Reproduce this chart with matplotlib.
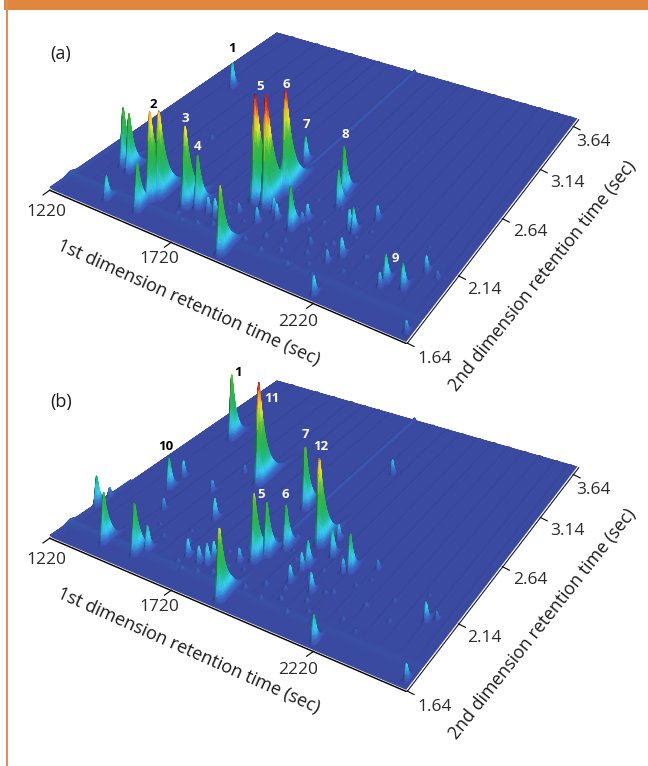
import numpy as np
import matplotlib
matplotlib.use("Agg")
import matplotlib.pyplot as plt
from matplotlib.colors import LinearSegmentedColormap
from matplotlib.patches import Rectangle

plt.rcParams['font.family'] = ['Open Sans', 'DejaVu Sans']

# ---- data: retention times (s) and peak heights ----
A_T1 = [1335,1336,1376,1538,1416,1536,1552,1463,1652,1688,1882,1728,1759,1638,1486,1886,1901,1929,1992,2009,2002,1809,
        2164,2205,2079,2042,2056,2161,2143,2191,2187,2350,2404,2426,2490,2344,2464,1822,1863,1875,1838]
A_T2 = [2.97,1.99,1.964,1.73,1.72,1.83,1.87,1.98,1.88,1.907,1.68,1.91,1.90,1.88,2.45,1.97,2.08,2.04,2.01,2.12,2.09,1.99,
        1.90,1.68,1.97,2.38,2.29,2.15,2.16,2.30,1.97,1.92,1.92,2.08,1.69,1.88,2.07,2.10,2.10,2.25,2.53]
A_H  = [26,60,60,50,25,88,88,50,83,55,70,16,19,10,5,16,16,17,45,17,10,10,
        13,20,8,52,37,26,22,15,20,29,27,17,13,15,8,110,114,100,27]

B_T1 = [1350,1613,1832,1981,1853,1871,1901,1368,1361,1230,1226,1393,1516,1537,1432,1502,1612,1526,1874,1663,1711,1738,1741,
        1815,2003,2000,2007,2082,2205,2045,2015,2131,2113,2196,2428,2450,2490,1976]
B_T2 = [2.93,2.61,2.54,2.30,2.02,2.09,2.19,2.31,2.45,1.97,2.08,1.74,1.75,1.81,2.14,2.42,2.21,2.67,1.69,1.88,1.87,1.88,1.93,
        1.98,1.98,2.09,2.13,1.97,1.68,2.26,2.40,2.20,2.18,2.29,2.07,2.11,1.69,3.09]
B_H  = [66,103,65,90,70,55,46,32,17,31,9,52,53,26,12,12,22,8,75,19,18,22,18,
        15,18,18,27,21,29,28,17,40,15,10,20,9,18,16]

# small bumps scattered across the crowded middle of both panels
BUMP_T1 = [1480,1530,1590,1620,1655,1690,1740,1780,1800,1835,1850,1905,1925,1950,1975,1985,2025,2040,2060,2075,2095,
           2110,2125,2140,2160,2180,2205,2225,2250,2280,2310,2340,2385,1760,1800,1850,1900,1960,2010,2070,2120]
BUMP_T2 = [2.02,1.95,2.06,1.98,1.82,1.78,1.80,1.84,2.10,1.85,2.22,1.83,2.20,1.90,1.80,2.28,1.85,2.05,2.14,1.78,1.90,
           2.32,1.84,2.02,1.78,2.12,2.20,1.88,2.02,1.84,2.12,1.98,2.24,2.02,1.92,1.94,2.30,2.14,1.92,2.28,2.00]
BUMP_H  = [3,4,3,5,4,3,4,5,3,5,4,5,3,6,4,3,5,4,3,4,5,
           3,4,5,3,4,3,4,4,3,3,4,3,3,4,3,3,4,5,3,4]

# faint column-bleed ridges
BAND_T2 = 1.785
MAIN_STREAK_T1 = 1860
STREAK_T1 = [1300,1420,1500,1580,1640,1700,1760,1940,2000,2060,2130,2190,2250,2310,2370,2430,2480]
STREAK_H  = [0.5,0.6,0.5,0.6,0.5,0.7,0.5,0.6,0.5,0.6,0.5,0.6,0.5,0.6,0.5,0.6,0.5]

TICKS_T1 = [1220, 1720, 2220]
TICKS_T2 = [1.64, 2.14, 2.64, 3.14, 3.64]
T1_LABELS = ['1220', '1720', '2220']
T2_LABELS = ['1.64', '2.14', '2.64', '3.14', '3.64']

LABELS_A = [('1',232,48,'k'),('2',153,104,'k'),('3',185,118,'w'),('4',198,146,'w'),('5',260,87,'w'),('6',286,84,'w'),
            ('7',306,125,'w'),('8',345,135,'w'),('9',395,258,'w')]
LABELS_B = [('1',238,372,'k'),('11',272,399,'w'),('7',305,434,'w'),('12',321,447,'w'),('5',261,494,'w'),('6',285,495,'w'),
            ('10',166,447,'k')]

T1_MIN, T1_SPAN = 1220.0, 1285.0
T2_MIN, T2_SPAN = 1.64, 2.08

# ---- floor-plane view: corners of panel (a) in figure pixels ----
G, H = -0.1873, 0.2934
MA, MB, MC = 279.96, 308.27, 50.0
MD, ME, MF = 88.94, -146.32, 189.0
PANEL_DY = {'a': 0, 'b': 348}

def project(t1, t2, z=0.0, dy=0):
    u = (np.asarray(t1, float) - T1_MIN) / T1_SPAN
    v = (np.asarray(t2, float) - T2_MIN) / T2_SPAN
    w = G*u + H*v + 1
    return (MA*u + MB*v + MC)/w, (MD*u + ME*v + MF)/w - z + dy

CMAP = LinearSegmentedColormap.from_list('gc', [
    (0.00, '#3A4AA0'), (0.05, '#3560B0'), (0.10, '#2F9AD0'), (0.145, '#38C4E4'),
    (0.22, '#1FA88C'), (0.36, '#22A04A'), (0.58, '#3FAA30'), (0.66, '#B8D028'),
    (0.72, '#F2E41E'), (0.82, '#F09A1E'), (0.92, '#CE1E20'), (1.00, '#C01A20')])
ZMAX = 105.0

def surface(t1s, t2s, hs):
    t1s = list(t1s) + BUMP_T1
    t2s = list(t2s) + BUMP_T2
    hs = list(hs) + BUMP_H
    u = np.linspace(0, 1, 800)
    v = np.linspace(1, 0, 520)          # far rows first, so near rows paint over them
    U, V = np.meshgrid(u, v)
    T1 = T1_MIN + U*T1_SPAN
    T2 = T2_MIN + V*T2_SPAN
    Z = np.zeros_like(U)
    for t1, t2, h in zip(t1s, t2s, hs):
        u0 = (t1 - T1_MIN)/T1_SPAN
        v0 = (t2 - T2_MIN)/T2_SPAN
        su = 0.0022 + 0.000028*h
        sl = 0.0032 + 0.00002*h
        tr = 0.0035 + 0.00030*h
        du = (U - u0)/su
        dv = V - v0
        prof = np.where(dv < 0, np.exp(-0.5*(dv/sl)**2), np.exp(-(np.maximum(dv, 0)/tr)**1.05))
        Z += h*np.exp(-0.5*du**2)*prof
    Z += (2.4 - 1.2*U)*np.exp(-0.5*((T2 - BAND_T2)/0.022)**2)
    Z += 1.6*np.exp(-0.5*(U/0.008)**2)*(V < 0.3)
    Z += 2.4*np.exp(-0.5*((T1 - MAIN_STREAK_T1)/3.2)**2)*np.clip((V - 0.28)/0.06, 0, 1)
    for t, h in zip(STREAK_T1, STREAK_H):
        Z += h*np.exp(-0.5*((T1 - t)/3.2)**2)*np.clip((V - 0.06)/0.1, 0, 1)
    return T1, T2, Z

def shaded_rgba(Z):
    rgba = CMAP(np.clip(Z/ZMAX, 0, 1))
    dz = np.gradient(Z, axis=1)
    shade = 1 - 0.30*np.tanh(dz/1.6)
    shade = np.clip(shade, 0.55, 1.12)
    rgba[..., :3] = np.clip(rgba[..., :3]*shade[..., None], 0, 1)
    return rgba

fig = plt.figure(figsize=(6.48, 7.66), dpi=100)
ax = fig.add_axes([0, 0, 1, 1])
ax.set_xlim(0, 648); ax.set_ylim(766, 0); ax.axis('off')

ax.add_patch(Rectangle((4, 0), 644, 9.7, color='#E0873F', lw=0))
ax.add_patch(Rectangle((5.6, 0), 2.7, 766, color='#E88B48', lw=0))

T1_OFFS = [(-4, 23), (-12, 18), (-15, 20)]
T2_OFFS = [(29, 17), (27, 15), (29, 14), (28, 15), (21, 17)]
TXT = '#2b2b2b'

def panel(t1s, t2s, hs, dy, name, labels):
    T1, T2, Z = surface(t1s, t2s, hs)
    X, Y = project(T1, T2, Z, dy)
    ax.pcolormesh(X, Y, shaded_rgba(Z), shading='gouraud', rasterized=True, zorder=2)
    e = T1_MIN + T1_SPAN
    f = T2_MIN + T2_SPAN
    x0, y0 = project([T1_MIN, e], [T2_MIN, T2_MIN], 0, dy)
    ax.plot(x0, y0+1.2, color='k', lw=1.3, zorder=3, solid_capstyle='round')
    ax.plot(x0, y0+0.2, color='w', lw=0.5, zorder=3)
    x1, y1 = project([e, e], [T2_MIN, f], 0, dy)
    ax.plot(x1+1.6, y1+0.8, color='#222222', lw=0.9, zorder=3)
    ax.plot(x1+0.5, y1+0.2, color='w', lw=0.7, zorder=3)
    for t, lab, (ox, oy) in zip(TICKS_T1, T1_LABELS, T1_OFFS):
        tx, ty = project(t, T2_MIN, 0, dy)
        ax.plot([tx-7, tx], [ty+6, ty+1], color='k', lw=0.8, zorder=3)
        ax.text(tx+ox, ty+oy, lab, ha='center', va='center', fontsize=12.5, color=TXT)
    for t, lab, (ox, oy) in zip(TICKS_T2, T2_LABELS, T2_OFFS):
        tx, ty = project(e, t, 0, dy)
        ax.plot([tx+1, tx+8], [ty+1, ty+4.5], color='k', lw=0.8, zorder=3)
        ax.text(tx+ox, ty+oy, lab, ha='center', va='center', fontsize=12.5, color=TXT)
    ax.text(189, 303+dy, '1st dimension retention time (sec)', rotation=-24, rotation_mode='anchor',
            ha='center', va='center', fontsize=13, color='#1a1a1a')
    ax.text(543, 276+dy, '2nd dimension retention time (sec)', rotation=51.5, rotation_mode='anchor',
            ha='center', va='center', fontsize=12.8, color='#1a1a1a')
    ax.text(61, 54+dy, name, ha='center', va='center', fontsize=13, color='#1a1a1a')
    for s, lx, ly, c in labels:
        ax.text(lx, ly, s, ha='center', va='center', fontsize=9.5, fontweight='bold', color=c, zorder=5)

panel(A_T1, A_T2, A_H, PANEL_DY['a'], '(a)', LABELS_A)
panel(B_T1, B_T2, B_H, PANEL_DY['b'], '(b)', LABELS_B)

fig.savefig('out.png', dpi=100, facecolor='white')
